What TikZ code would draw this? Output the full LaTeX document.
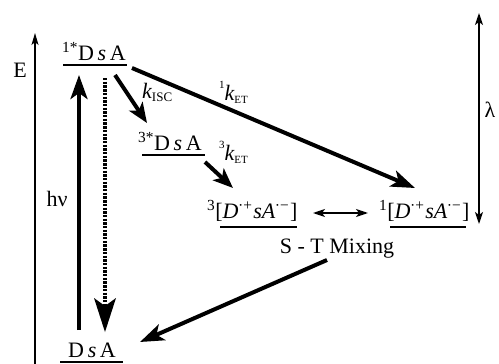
\documentclass[tikz,border=0pt]{standalone}
\usepackage{fontspec}
\setmainfont{Liberation Serif}
\usetikzlibrary{arrows.meta}
\begin{document}
\begin{tikzpicture}[x=1pt,y=-1pt,
  txt/.style={inner sep=0pt, font=\fontsize{22}{24}\selectfont},
  lvl/.style={line width=2.6pt},
  bigarr/.style={line width=4pt,-{Stealth[length=24pt,width=17pt,inset=6pt]}},
  medarr/.style={line width=4pt,-{Stealth[length=20pt,width=16pt,inset=5pt]}},
  dotarr/.style={line width=3.6pt,dash pattern=on 2.4pt off 1.3pt,-{Stealth[length=34pt,width=22pt,inset=8pt,line width=0pt]}},
  thinarr/.style={line width=1.4pt,-{Stealth[length=12pt,width=7pt,inset=3pt]}},
  thinboth/.style={line width=1.4pt,{Stealth[length=12pt,width=8pt,inset=3pt]}-{Stealth[length=12pt,width=8pt,inset=3pt]}}]
\useasboundingbox[fill=white] (0,0) rectangle (499,364);

% energy levels
\coordinate (s1l) at (63,65);   \coordinate (s1r) at (127,65);
\coordinate (t1l) at (142,155); \coordinate (t1r) at (205,155);
\coordinate (gl)  at (60,362);  \coordinate (gr)  at (123,362);
\coordinate (p3l) at (220,227); \coordinate (p3r) at (297,227);
\coordinate (p1l) at (390,227); \coordinate (p1r) at (466,227);
\draw[lvl] (s1l) -- (s1r);
\draw[lvl] (t1l) -- (t1r);
\draw[lvl] (gl) -- (gr);
\draw[lvl] (p3l) -- (p3r);
\draw[lvl] (p1l) -- (p1r);

% state labels
\node[txt,anchor=base west] (s1) at (62,60) {\textsuperscript{1*}D\,{\itshape s}\,A};
\node[txt,anchor=base west] (t1) at (138,150) {\textsuperscript{3*}D\,{\itshape s}\,A};
\node[txt,anchor=base west] (g) at (68,357) {D\,{\itshape s}\,A};
\node[txt,anchor=base west] (p3) at (207,218) {\textsuperscript{3}[{\itshape D\textsuperscript{·+}sA\textsuperscript{·−}}]};
\node[txt,anchor=base west] (p1) at (379,218) {\textsuperscript{1}[{\itshape D\textsuperscript{·+}sA\textsuperscript{·−}}]};
\node[txt,anchor=base] (mix) at (337,253) {S - T Mixing};

% axis labels
\node[txt,anchor=base] (E) at (20,77) {E};
\node[txt,anchor=base] (hv) at (57,206) {hν};
\node[txt,anchor=base] (lam) at (490,117) {λ};

% rate labels
\node[txt,anchor=base west] (kisc) at (142,98) {{\itshape k}\raisebox{-0.35ex}{\fontsize{13}{14}\selectfont ISC}};
\node[txt,anchor=base west] (k1et) at (219,100) {\raisebox{1.1ex}{\fontsize{11}{12}\selectfont 1}{\itshape k}\raisebox{-0.35ex}{\fontsize{11}{12}\selectfont ET}};
\node[txt,anchor=base west] (k3et) at (219,160) {\raisebox{1.1ex}{\fontsize{11}{12}\selectfont 3}{\itshape k}\raisebox{-0.35ex}{\fontsize{11}{12}\selectfont ET}};

% arrow end points
\coordinate (Ebot) at (35,366);  \coordinate (Etop) at (35,33);
\coordinate (Ltop) at (479,13);  \coordinate (Lbot) at (479,224);
\coordinate (hvs) at (79,330);   \coordinate (hve) at (79,75);
\coordinate (dts) at (105,78);   \coordinate (dte) at (105,332);
\coordinate (iscs) at (115,75);  \coordinate (isce) at (147,123);
\coordinate (k1s) at (132,68);   \coordinate (k1e) at (415,188);
\coordinate (k3s) at (205,162);  \coordinate (k3e) at (233,188);
\coordinate (mxl) at (313,213);  \coordinate (mxr) at (368,213);
\coordinate (rgs) at (327,260);  \coordinate (rge) at (140,342);

% connectors
\draw[thinarr] (Ebot) -- (Etop);
\draw[thinboth] (Ltop) -- (Lbot);
\draw[bigarr] (hvs) -- (hve);
\draw[dotarr] (dts) -- (dte);
\draw[medarr] (iscs) -- (isce);
\draw[bigarr] (k1s) -- (k1e);
\draw[medarr] (k3s) -- (k3e);
\draw[thinboth] (mxl) -- (mxr);
\draw[bigarr] (rgs) -- (rge);
\end{tikzpicture}
\end{document}
